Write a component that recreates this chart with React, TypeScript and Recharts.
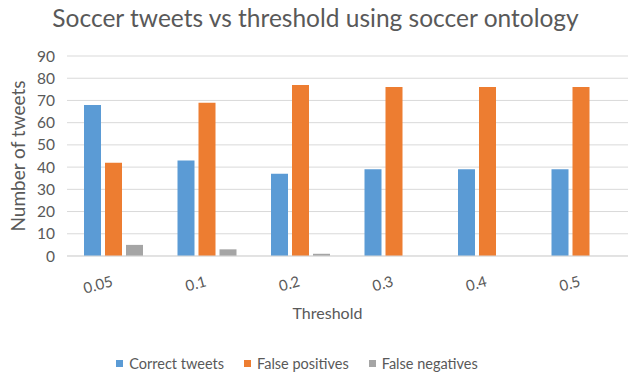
import React from 'react';
import { BarChart, Bar, XAxis, YAxis, CartesianGrid, Legend } from 'recharts';

const thresholds = ['0.05', '0.1', '0.2', '0.3', '0.4', '0.5'];
const correctTweets = [68, 43, 37, 39, 39, 39];
const falsePositives = [42, 69, 77, 76, 76, 76];
const falseNegatives = [5, 3, 1, 0, 0, 0];
const yTicks = [0, 10, 20, 30, 40, 50, 60, 70, 80, 90];

const SERIES = [
  { key: 'correct', name: 'Correct tweets', color: '#5b9bd5' },
  { key: 'falsePos', name: 'False positives', color: '#ed7d31' },
  { key: 'falseNeg', name: 'False negatives', color: '#a5a5a5' },
];

const FONT = 'Lato, "Liberation Sans", sans-serif';
const TEXT = '#595959';

const chartData = thresholds.map((t, i) => ({
  threshold: t,
  correct: correctTweets[i],
  falsePos: falsePositives[i],
  falseNeg: falseNegatives[i],
}));

const SlantedTick = ({ x, y, payload }: any) => (
  <text
    x={x}
    y={y + 22}
    transform={`rotate(-15, ${x}, ${y + 22})`}
    textAnchor="end"
    fill={TEXT}
    fontSize={15}
    fontFamily={FONT}
  >
    {payload.value}
  </text>
);

const LegendRow = () => (
  <div style={{ display: 'flex', justifyContent: 'center', gap: 20, fontFamily: FONT, fontSize: 14.5, color: TEXT, paddingRight: 34, paddingTop: 9 }}>
    {SERIES.map((s) => (
      <span key={s.key} style={{ display: 'flex', alignItems: 'center' }}>
        <span style={{ width: 7, height: 7, background: s.color, marginRight: 6, display: 'inline-block' }} />
        {s.name}
      </span>
    ))}
  </div>
);

export default function App() {
  return (
    <div style={{ position: 'absolute', left: 0, top: 0, width: 631, height: 376, background: '#fff' }}>
      <div
        style={{
          position: 'absolute',
          top: 3,
          left: 0,
          width: 631,
          textAlign: 'center',
          fontFamily: FONT,
          fontSize: 24.5,
          color: TEXT,
          whiteSpace: 'nowrap',
        }}
      >
        Soccer tweets vs threshold using soccer ontology
      </div>
      <BarChart
        width={631}
        height={376}
        data={chartData}
        margin={{ top: 56, right: 3, bottom: 0, left: 0 }}
        barSize={17}
        barGap={4}
      >
        <CartesianGrid vertical={false} stroke="#d9d9d9" />
        <XAxis
          dataKey="threshold"
          tick={<SlantedTick />}
          tickLine={false}
          axisLine={{ stroke: '#d9d9d9' }}
          height={90}
          interval={0}
          label={({ viewBox }: any) => (
            <text
              x={viewBox.x + viewBox.width / 2 - 20}
              y={viewBox.y + 63}
              textAnchor="middle"
              fill={TEXT}
              fontSize={16}
              fontFamily={FONT}
            >
              Threshold
            </text>
          )}
        />
        <YAxis
          domain={[0, 90]}
          ticks={yTicks}
          interval={0}
          width={67}
          tickLine={false}
          axisLine={false}
          tick={{ fill: TEXT, fontSize: 15.5, fontFamily: FONT }}
          tickMargin={6}
          label={({ viewBox }: any) => (
            <text
              x={17}
              y={viewBox.y + viewBox.height / 2}
              transform={`rotate(-90, 17, ${viewBox.y + viewBox.height / 2})`}
              textAnchor="middle"
              dominantBaseline="central"
              fill={TEXT}
              fontSize={19}
              fontFamily={FONT}
            >
              Number of tweets
            </text>
          )}
        />
        <Legend verticalAlign="bottom" height={30} content={<LegendRow />} />
        {SERIES.map((s) => (
          <Bar key={s.key} dataKey={s.key} name={s.name} fill={s.color} isAnimationActive={false} />
        ))}
      </BarChart>
    </div>
  );
}
